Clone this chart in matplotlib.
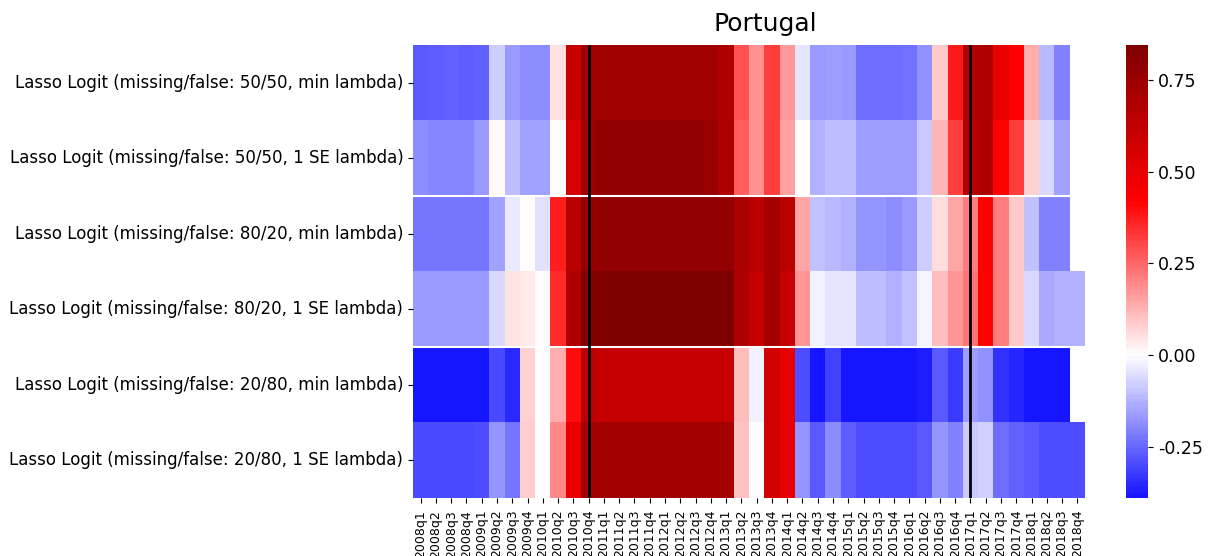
import numpy as np
import pandas as pd
import matplotlib
matplotlib.use("Agg")
import matplotlib.pyplot as plt
import seaborn as sns

nan = np.nan

quarters = [f"{y}q{q}" for y in range(2008, 2019) for q in range(1, 5)]

models = [
    "Lasso Logit (missing/false: 50/50, min lambda)",
    "Lasso Logit (missing/false: 50/50, 1 SE lambda)",
    "Lasso Logit (missing/false: 80/20, min lambda)",
    "Lasso Logit (missing/false: 80/20, 1 SE lambda)",
    "Lasso Logit (missing/false: 20/80, min lambda)",
    "Lasso Logit (missing/false: 20/80, 1 SE lambda)",
]

m50_min = [-0.27, -0.265, -0.26, -0.265, -0.26, -0.083, -0.166, -0.19, -0.19, 0.05, 0.605, 0.73,
           0.737, 0.737, 0.737, 0.737, 0.737, 0.737, 0.737, 0.737,
           0.69, 0.29, 0.18, 0.32, 0.166, -0.04, -0.166, -0.16, -0.166,
           -0.24, -0.24, -0.24, -0.232, -0.18, 0.09, 0.38, 0.68, 0.69, 0.505, 0.42, 0.133, -0.116, -0.21, nan]
m50_1se = [-0.19, -0.2, -0.2, -0.2, -0.166, 0.015, -0.108, -0.15, -0.15, 0.0, 0.555, 0.737,
           0.777, 0.777, 0.777, 0.777, 0.777, 0.777, 0.777, 0.76,
           0.688, 0.265, 0.18, 0.315, 0.157, 0.003, -0.124, -0.108, -0.108,
           -0.16, -0.16, -0.16, -0.16, -0.09, 0.124, 0.315, 0.66, 0.69, 0.42, 0.315, 0.075, -0.066, -0.15, nan]
m80_min = [-0.224, -0.224, -0.224, -0.224, -0.224, -0.15, -0.033, 0.002, -0.05, 0.373, 0.655, 0.76,
           0.777, 0.777, 0.777, 0.777, 0.777, 0.777, 0.777, 0.777,
           0.777, 0.70, 0.638, 0.72, 0.638, 0.15, -0.1, -0.116, -0.124,
           -0.174, -0.174, -0.19, -0.166, -0.083, 0.058, 0.15, 0.215, 0.43, 0.215, 0.09, -0.1, -0.21, -0.21, nan]
m80_1se = [-0.166, -0.166, -0.166, -0.166, -0.166, -0.066, 0.05, 0.038, 0.0, 0.356, 0.688, 0.826,
           0.845, 0.845, 0.845, 0.845, 0.845, 0.845, 0.845, 0.845,
           0.845, 0.688, 0.605, 0.72, 0.605, 0.174, -0.025, -0.04, -0.04,
           -0.108, -0.108, -0.124, -0.1, -0.017, 0.108, 0.174, 0.224, 0.42, 0.215, 0.09, -0.058, -0.14, -0.124, -0.124]
m20_min = [-0.387, -0.387, -0.387, -0.387, -0.387, -0.298, -0.348, 0.075, 0.005, 0.133, 0.40, 0.638,
           0.605, 0.605, 0.605, 0.605, 0.605, 0.605, 0.605, 0.605,
           0.605, 0.108, -0.025, 0.57, 0.505, -0.29, -0.38, -0.315, -0.38,
           -0.385, -0.385, -0.385, -0.385, -0.373, -0.273, -0.323, -0.16, -0.18, -0.34, -0.356, -0.38, -0.389, -0.389, nan]
m20_1se = [-0.298, -0.298, -0.298, -0.298, -0.29, -0.174, -0.224, 0.083, 0.003, 0.19, 0.49, 0.72,
           0.72, 0.72, 0.72, 0.725, 0.725, 0.725, 0.72, 0.72,
           0.72, 0.1, 0.0, 0.57, 0.505, -0.174, -0.273, -0.19, -0.265,
           -0.29, -0.29, -0.29, -0.29, -0.273, -0.174, -0.207, -0.09, -0.075, -0.24, -0.257, -0.273, -0.29, -0.29, -0.29]

cbar_ticks = [-0.25, 0.0, 0.25, 0.5, 0.75]

df = pd.DataFrame([m50_min, m50_1se, m80_min, m80_1se, m20_min, m20_1se],
                  index=models, columns=quarters)

fig = plt.figure(figsize=(12.11, 5.56), dpi=100)
ax = fig.add_axes([413 / 1211, 1 - 498 / 556, 672 / 1211, 453 / 556])
cax = fig.add_axes([1126 / 1211, 1 - 498 / 556, 22 / 1211, 453 / 556])

sns.heatmap(df, cmap="seismic", center=0, ax=ax, cbar_ax=cax,
            xticklabels=True, yticklabels=True,
            cbar_kws={"ticks": cbar_ticks, "format": "%.2f"})

# separators between model groups, and the two event markers
ax.axhline(2, color="white", lw=1.5)
ax.axhline(4, color="white", lw=1.5)
ax.axvline(quarters.index("2010q4") + 0.5, color="black", lw=2)
ax.axvline(quarters.index("2017q1") + 0.5, color="black", lw=2)

ax.set_title("Portugal", fontsize=18, x=0.524, pad=10)
ax.tick_params(axis="y", labelsize=12, rotation=0)
ax.tick_params(axis="x", labelsize=9, rotation=90, pad=5)
cax.tick_params(labelsize=12.5)

fig.savefig("out.png", dpi=100)
